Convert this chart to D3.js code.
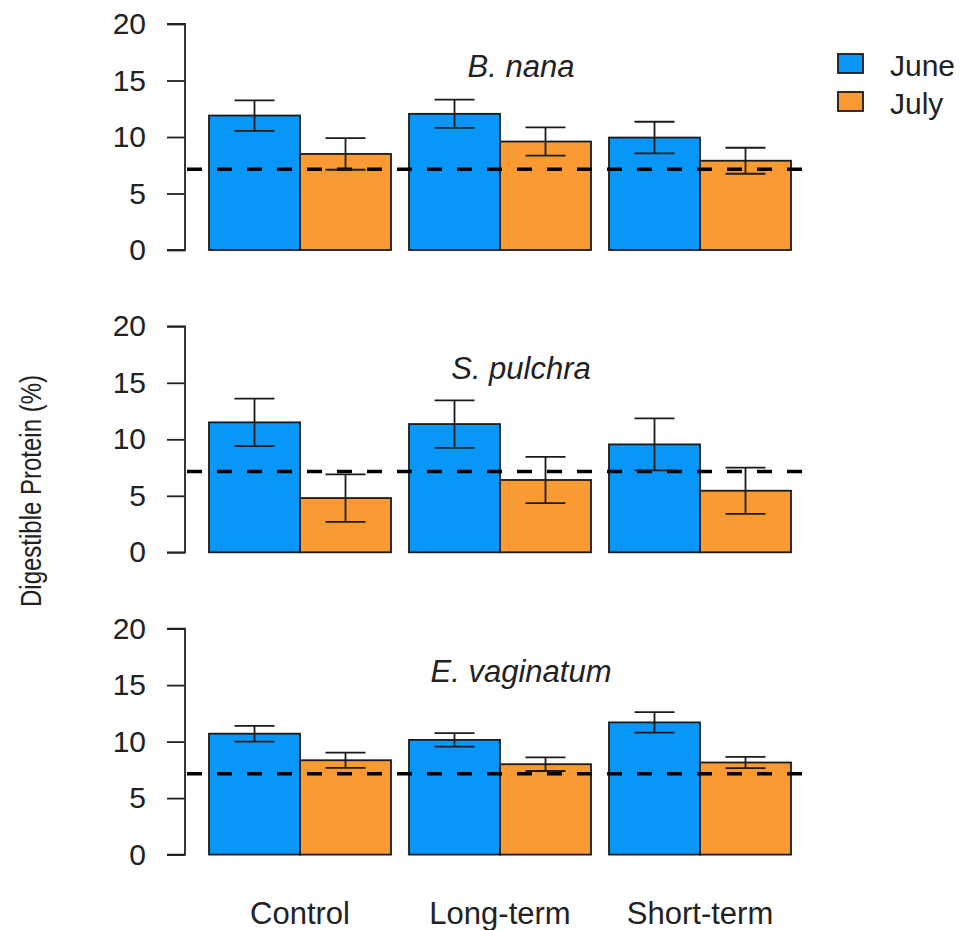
<!DOCTYPE html>
<html>
<head>
<meta charset="utf-8">
<script src="https://cdn.jsdelivr.net/npm/d3@7"></script>
<style>
  html, body { margin: 0; padding: 0; background: #fff; }
  svg { display: block; font-family: "Liberation Sans", Arial, sans-serif; }
</style>
</head>
<body>
<svg id="chart" width="961" height="930"></svg>
<script>
// ---- data ----
const treatments = ["Control", "Long-term", "Short-term"];
const months = ["June", "July"];
const species = ["B. nana", "S. pulchra", "E. vaginatum"];
const yTicks = [0, 5, 10, 15, 20];
const threshold = 7.15;

// means [species][treatment] for each month
const juneMean = [
  [11.9, 12.05, 9.95],
  [11.5, 11.35, 9.55],
  [10.7, 10.15, 11.7]
];
const julyMean = [
  [8.5, 9.6, 7.9],
  [4.8, 6.4, 5.45],
  [8.35, 8.0, 8.15]
];
const juneSE = [
  [1.35, 1.25, 1.4],
  [2.1, 2.1, 2.3],
  [0.7, 0.6, 0.9]
];
const julySE = [
  [1.4, 1.25, 1.15],
  [2.1, 2.05, 2.05],
  [0.68, 0.6, 0.5]
];

const colors = { June: "#0897F8", July: "#F99A33" };

// ---- layout ----
const svg = d3.select("#chart");
const textColor = "#222";
const axisX = 185;
const panelTop0 = 24, panelStep = 302.3, panelH = 226;

const x = d3.scaleBand().domain(treatments).range([200, 800])
  .paddingInner(0.09).paddingOuter(0.045);
const xm = d3.scaleBand().domain(months).range([0, x.bandwidth()]).padding(0);

species.forEach((sp, i) => {
  const top = panelTop0 + i * panelStep;
  const y = d3.scaleLinear().domain([0, 20]).range([top + panelH, top]);
  const g = svg.append("g");

  // axis
  const axis = d3.axisLeft(y).tickValues(yTicks).tickSize(18).tickPadding(21);
  const ag = g.append("g").attr("transform", `translate(${axisX},0)`).call(axis);
  ag.select(".domain").attr("stroke", "#222").attr("stroke-width", 1.8)
    .attr("d", `M-18,${y(20)}H0V${y(0)}H-18`);
  ag.selectAll(".tick line").attr("stroke", "#222").attr("stroke-width", 1.8);
  ag.selectAll(".tick text").attr("fill", textColor).attr("font-size", 30)
    .attr("font-family", "'Liberation Sans', Arial, sans-serif");

  // bars
  const rows = treatments.map((t, j) => ([
    { t, m: "June", v: juneMean[i][j], se: juneSE[i][j] },
    { t, m: "July", v: julyMean[i][j], se: julySE[i][j] }
  ])).flat();

  g.selectAll("rect.bar").data(rows).join("rect")
    .attr("class", "bar")
    .attr("x", d => x(d.t) + xm(d.m))
    .attr("y", d => y(d.v))
    .attr("width", xm.bandwidth())
    .attr("height", d => y(0) - y(d.v))
    .attr("fill", d => colors[d.m])
    .attr("stroke", "#1a1a1a")
    .attr("stroke-width", 1.8);

  // dashed reference line
  g.append("line")
    .attr("x1", axisX + 2).attr("x2", 810)
    .attr("y1", y(threshold)).attr("y2", y(threshold))
    .attr("stroke", "#000").attr("stroke-width", 3.5)
    .attr("stroke-dasharray", "15,15");

  // error bars
  const cap = 20;
  const eb = g.selectAll("g.err").data(rows).join("g").attr("class", "err");
  const cx = d => x(d.t) + xm(d.m) + xm.bandwidth() / 2;
  eb.append("line").attr("x1", cx).attr("x2", cx)
    .attr("y1", d => y(d.v + d.se)).attr("y2", d => y(d.v - d.se));
  eb.append("line").attr("x1", d => cx(d) - cap).attr("x2", d => cx(d) + cap)
    .attr("y1", d => y(d.v + d.se)).attr("y2", d => y(d.v + d.se));
  eb.append("line").attr("x1", d => cx(d) - cap).attr("x2", d => cx(d) + cap)
    .attr("y1", d => y(d.v - d.se)).attr("y2", d => y(d.v - d.se));
  eb.selectAll("line").attr("stroke", "#1a1a1a").attr("stroke-width", 1.8);

  // species title
  g.append("text")
    .attr("x", 521).attr("y", top + 53)
    .attr("text-anchor", "middle")
    .attr("font-size", 31).attr("font-style", "italic")
    .attr("fill", textColor)
    .text(sp);
});

// x labels
svg.selectAll("text.xlab").data(treatments).join("text")
  .attr("class", "xlab")
  .attr("x", d => x(d) + x.bandwidth() / 2)
  .attr("y", 924)
  .attr("text-anchor", "middle")
  .attr("font-size", 31)
  .attr("fill", textColor)
  .text(d => d);

// y label
svg.append("text")
  .attr("transform", "translate(41,491) rotate(-90) scale(1,1.25)")
  .attr("text-anchor", "middle")
  .attr("font-size", 24)
  .attr("fill", textColor)
  .text("Digestible Protein (%)");

// legend
const lg = svg.append("g").attr("transform", "translate(838,54)");
months.forEach((m, k) => {
  lg.append("rect").attr("x", 0).attr("y", k * 38)
    .attr("width", 25).attr("height", 19)
    .attr("fill", colors[m]).attr("stroke", "#1a1a1a").attr("stroke-width", 1.8);
  lg.append("text").attr("x", 52).attr("y", k * 38 + 11)
    .attr("dy", "0.36em")
    .attr("font-size", 30).attr("fill", textColor)
    .text(m);
});
</script>
</body>
</html>
